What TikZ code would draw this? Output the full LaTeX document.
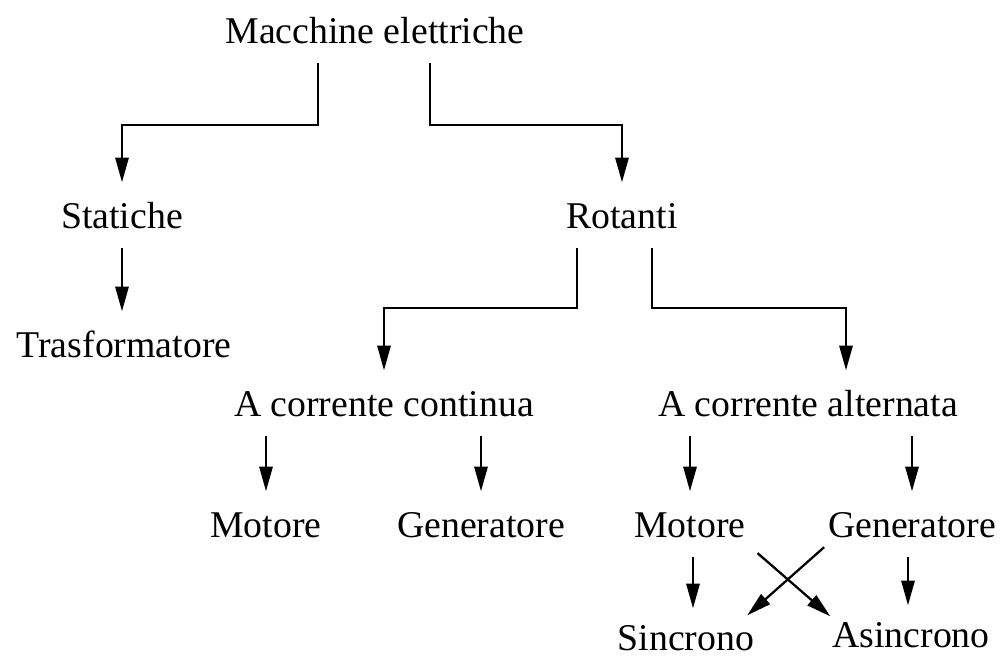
\documentclass[tikz,border=0pt]{standalone}
\usepackage{fontspec}
\setmainfont{Liberation Serif}
\usetikzlibrary{arrows.meta,calc}

\tikzset{
  lbl/.style={anchor=base, inner xsep=0pt, inner ysep=0pt, outer xsep=0pt, outer ysep=6pt,
    text height=20pt, text depth=5.5pt, font=\fontsize{21.5pt}{26pt}\selectfont},
  arr/.style={-{Triangle[length=14pt,width=7.5pt]}, line width=1.3pt},
}

\begin{document}
\begin{tikzpicture}[x=0.02cm,y=-0.02cm]
\useasboundingbox (0,0) rectangle (1003,657);
% classi
\node[lbl] (macchine) at (375,43) {Macchine elettriche};
\node[lbl] (statiche) at (122,228) {Statiche};
\node[lbl] (rotanti) at (622,228) {Rotanti};
\node[lbl] (trasf) at (124,357) {Trasformatore};
\node[lbl] (acc) at (384,416) {A corrente continua};
\node[lbl] (aca) at (808,416) {A corrente alternata};
\node[lbl] (mot1) at (266,537) {Motore};
\node[lbl] (gen1) at (481,537) {Generatore};
\node[lbl] (mot2) at (690,537) {Motore};
\node[lbl] (gen2) at (912,537) {Generatore};
\node[lbl] (sinc) at (686,650) {Sincrono};
\node[lbl] (asinc) at (911,647) {Asincrono};
% collegamenti
\draw[arr] (macchine.south) ++(-57,0) -- ++(0,62) -| (statiche.north);
\draw[arr] (macchine.south) ++(55,0) -- ++(0,62) -| (rotanti.north);
\draw[arr] (statiche.south) -- (statiche.south |- trasf.north);
\draw[arr] (rotanti.south) ++(-45,0) -- ++(0,60) -| (acc.north);
\draw[arr] (rotanti.south) ++(30,0) -- ++(0,60) -| ($(aca.north)+(38,0)$);
\foreach \src/\dst in {acc/mot1, acc/gen1, aca/mot2, aca/gen2}
  \draw[arr] (\dst |- \src.south) -- (\dst.north);
\draw[arr] ($(mot2.south)+(3,0)$) -- ($(mot2.south |- sinc.north)+(3,4)$);
\draw[arr] ($(gen2.south)+(-4,0)$) -- ($(gen2.south |- asinc.north)+(-4,4)$);
% incrocio
\draw[arr] ($(mot2.south east)+(12,-4)$) -- ($(asinc.north west)+(-2,15)$);
\draw[arr] ($(gen2.south west)+(-4,-10)$) -- ($(sinc.north east)+(-7,11)$);
\end{tikzpicture}
\end{document}
